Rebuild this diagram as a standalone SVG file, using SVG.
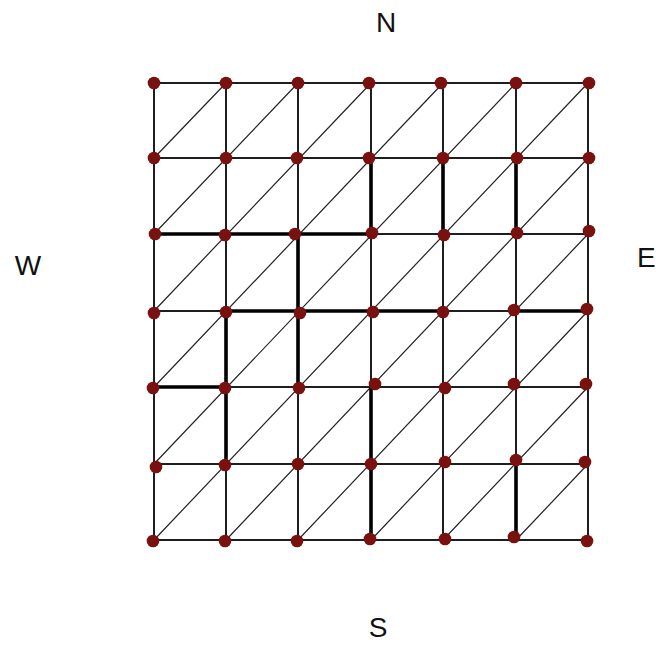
<svg xmlns="http://www.w3.org/2000/svg" width="658" height="648" viewBox="0 0 658 648">
<style>
.g{stroke:#1e1e1e;stroke-width:2;fill:none}
.t{stroke:#000;stroke-width:3.6;fill:none;stroke-linecap:round}
.d{stroke:#222;stroke-width:1.2;fill:none}
.n{fill:#7a1111}
.lbl{font-family:"Liberation Sans",Arial,sans-serif;font-size:28px;fill:#111}
</style>
<rect width="658" height="648" fill="#fff"/>
<g id="connectors">
<path class="d" d="M154,158L226,83M154,234L298,83M154,311L371,83M154,387L443,83M154,464L516,83M154,540L588,83M226,540L588,158M298,540L588,234M371,540L588,311M443,540L588,387M516,540L588,464"/>
<path class="g" d="M154,83H588M154,158H588M154,234H588M154,311H588M154,387H588M154,464H588M154,540H588M154,83V540M226,83V540M298,83V540M371,83V540M443,83V540M516,83V540M588,83V540"/>
<path class="t" d="M154,234H371M298,234V387M226,311V464M226,311H443M516,311H588M154,387H226M371,158V234M443,158V234M516,158V234M371,387V540M516,464V540"/>
</g>
<g id="n0-0"><circle class="n" cx="154" cy="83" r="6.3"/></g>
<g id="n0-1"><circle class="n" cx="226" cy="83" r="6.3"/></g>
<g id="n0-2"><circle class="n" cx="298" cy="83" r="6.3"/></g>
<g id="n0-3"><circle class="n" cx="369" cy="83" r="6.3"/></g>
<g id="n0-4"><circle class="n" cx="441" cy="83" r="6.3"/></g>
<g id="n0-5"><circle class="n" cx="516" cy="83" r="6.3"/></g>
<g id="n0-6"><circle class="n" cx="589" cy="83" r="6.3"/></g>
<g id="n1-0"><circle class="n" cx="154" cy="158" r="6.3"/></g>
<g id="n1-1"><circle class="n" cx="226" cy="158" r="6.3"/></g>
<g id="n1-2"><circle class="n" cx="297" cy="158" r="6.3"/></g>
<g id="n1-3"><circle class="n" cx="369" cy="158" r="6.3"/></g>
<g id="n1-4"><circle class="n" cx="443" cy="158" r="6.3"/></g>
<g id="n1-5"><circle class="n" cx="517" cy="158" r="6.3"/></g>
<g id="n1-6"><circle class="n" cx="589" cy="158" r="6.3"/></g>
<g id="n2-0"><circle class="n" cx="155" cy="234" r="6.3"/></g>
<g id="n2-1"><circle class="n" cx="225" cy="235" r="6.3"/></g>
<g id="n2-2"><circle class="n" cx="295" cy="234" r="6.3"/></g>
<g id="n2-3"><circle class="n" cx="372" cy="233" r="6.3"/></g>
<g id="n2-4"><circle class="n" cx="444" cy="235" r="6.3"/></g>
<g id="n2-5"><circle class="n" cx="517" cy="233" r="6.3"/></g>
<g id="n2-6"><circle class="n" cx="589" cy="231" r="6.3"/></g>
<g id="n3-0"><circle class="n" cx="154" cy="313" r="6.3"/></g>
<g id="n3-1"><circle class="n" cx="226" cy="312" r="6.3"/></g>
<g id="n3-2"><circle class="n" cx="300" cy="313" r="6.3"/></g>
<g id="n3-3"><circle class="n" cx="373" cy="312" r="6.3"/></g>
<g id="n3-4"><circle class="n" cx="443" cy="312" r="6.3"/></g>
<g id="n3-5"><circle class="n" cx="514" cy="310" r="6.3"/></g>
<g id="n3-6"><circle class="n" cx="587" cy="309" r="6.3"/></g>
<g id="n4-0"><circle class="n" cx="153" cy="388" r="6.3"/></g>
<g id="n4-1"><circle class="n" cx="225" cy="388" r="6.3"/></g>
<g id="n4-2"><circle class="n" cx="299" cy="388" r="6.3"/></g>
<g id="n4-3"><circle class="n" cx="375" cy="384" r="6.3"/></g>
<g id="n4-4"><circle class="n" cx="445" cy="388" r="6.3"/></g>
<g id="n4-5"><circle class="n" cx="514" cy="384" r="6.3"/></g>
<g id="n4-6"><circle class="n" cx="586" cy="384" r="6.3"/></g>
<g id="n5-0"><circle class="n" cx="156" cy="467" r="6.3"/></g>
<g id="n5-1"><circle class="n" cx="225" cy="465" r="6.3"/></g>
<g id="n5-2"><circle class="n" cx="298" cy="464" r="6.3"/></g>
<g id="n5-3"><circle class="n" cx="371" cy="464" r="6.3"/></g>
<g id="n5-4"><circle class="n" cx="445" cy="462" r="6.3"/></g>
<g id="n5-5"><circle class="n" cx="516" cy="460" r="6.3"/></g>
<g id="n5-6"><circle class="n" cx="585" cy="462" r="6.3"/></g>
<g id="n6-0"><circle class="n" cx="153" cy="541" r="6.3"/></g>
<g id="n6-1"><circle class="n" cx="225" cy="541" r="6.3"/></g>
<g id="n6-2"><circle class="n" cx="297" cy="541" r="6.3"/></g>
<g id="n6-3"><circle class="n" cx="370" cy="539" r="6.3"/></g>
<g id="n6-4"><circle class="n" cx="445" cy="539" r="6.3"/></g>
<g id="n6-5"><circle class="n" cx="514" cy="537" r="6.3"/></g>
<g id="n6-6"><circle class="n" cx="587" cy="541" r="6.3"/></g>
<g id="labels">
<text class="lbl" x="386" y="32" text-anchor="middle">N</text>
<text class="lbl" x="28" y="275" text-anchor="middle">W</text>
<text class="lbl" x="637" y="267">E</text>
<text class="lbl" x="378" y="637" text-anchor="middle">S</text>
</g>
</svg>
